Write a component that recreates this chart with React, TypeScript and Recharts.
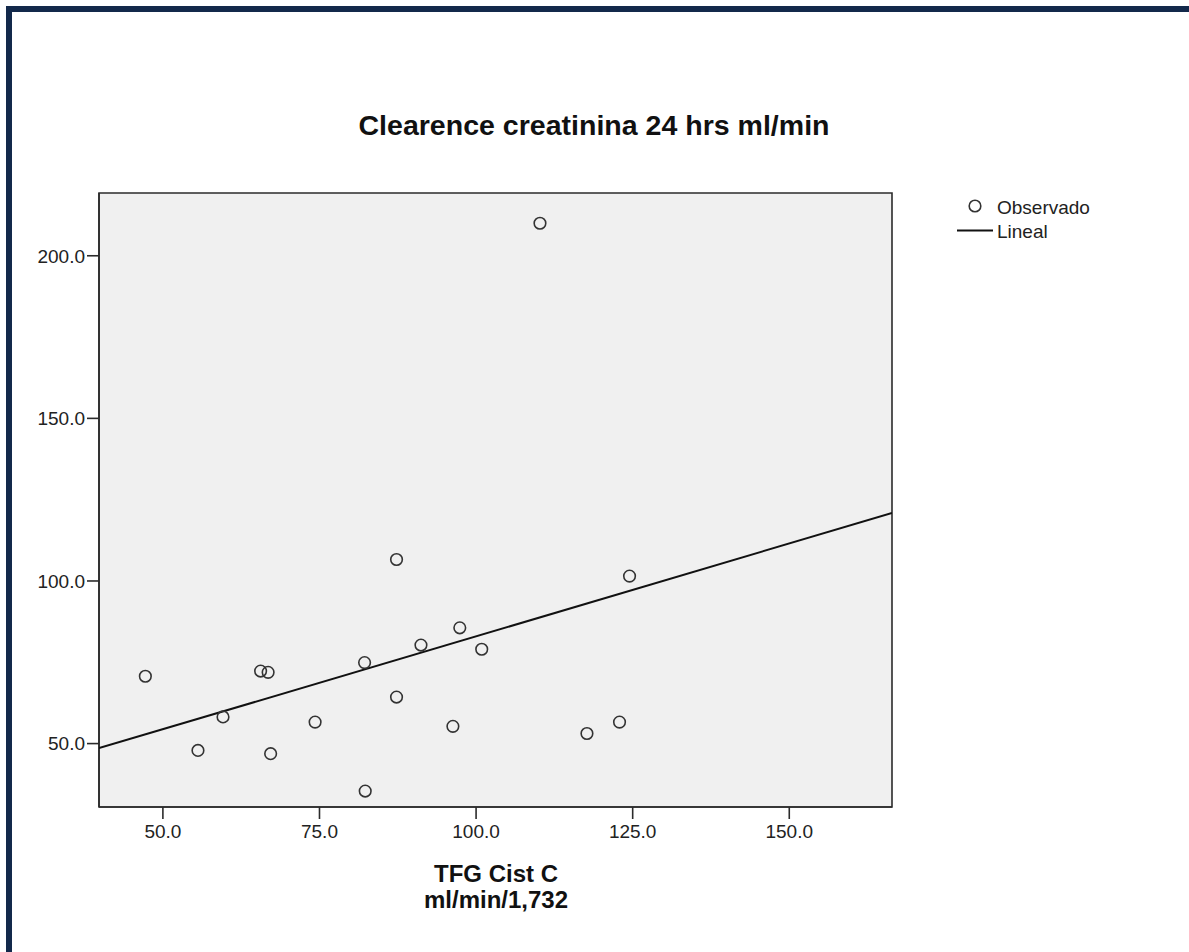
import React from 'react';
import { ScatterChart, Scatter, XAxis, YAxis, CartesianGrid, ReferenceArea } from 'recharts';

// Observed points: TFG Cist C (x) vs Clearence creatinina 24 hrs (y)
const obsX = [47.2, 55.6, 59.6, 65.6, 66.8, 67.2, 74.3, 82.2, 82.3, 87.3, 87.3, 91.2, 96.3, 97.4, 100.9, 110.2, 117.7, 122.9, 124.5];
const obsY = [70.7, 47.9, 58.2, 72.3, 71.9, 46.9, 56.6, 74.9, 35.4, 106.6, 64.3, 80.3, 55.3, 85.6, 79.0, 210.0, 53.1, 56.6, 101.5];

// Linear fit, read at the plot edges
const fitX = [39.8, 166.4];
const fitY = [48.6, 120.9];

const xDomain = [39.8, 166.4];
const yDomain = [30.5, 219.3];
const xTicks = [50, 75, 100, 125, 150];
const yTicks = [50, 100, 150, 200];

const observed = obsX.map((x, i) => ({ x, y: obsY[i] }));
const fitted = fitX.map((x, i) => ({ x, y: fitY[i] }));

const FONT = '"Liberation Sans", Arial, sans-serif';
const AXIS = '#2b2b2b';

const Ring = (props: any) => {
  const { cx, cy } = props;
  if (cx == null || cy == null) return <g />;
  return <circle cx={cx} cy={cy} r={5.8} fill="none" stroke="#333" strokeWidth={1.6} />;
};

const NoDot = () => <g />;

export default function App() {
  const tickStyle = { fontSize: 19, fill: '#222', fontFamily: FONT };
  return (
    <div style={{ position: 'fixed', left: 0, top: 0, width: 1189, height: 952, background: '#fff', overflow: 'hidden' }}>
      {/* frame */}
      <div style={{ position: 'absolute', left: 6, top: 6, right: 0, bottom: 0, borderTop: '6px solid #13294b', borderLeft: '6px solid #13294b' }} />

      <ScatterChart
        width={1189}
        height={952}
        margin={{ top: 193, right: 297, bottom: 105, left: 39 }}
        style={{ position: 'absolute', left: 0, top: 0 }}
      >
        <CartesianGrid horizontal={false} vertical={false} fill="#f0f0f0" />
        <XAxis
          type="number"
          dataKey="x"
          domain={xDomain}
          ticks={xTicks}
          allowDataOverflow
          height={40}
          tickSize={12}
          tickMargin={6}
          tick={tickStyle}
          tickFormatter={(v: number) => v.toFixed(1)}
          axisLine={{ stroke: AXIS, strokeWidth: 1.6 }}
          tickLine={{ stroke: AXIS, strokeWidth: 1.6 }}
        />
        <YAxis
          type="number"
          dataKey="y"
          domain={yDomain}
          ticks={yTicks}
          allowDataOverflow
          width={60}
          tickSize={12}
          tickMargin={2}
          tick={tickStyle}
          tickFormatter={(v: number) => v.toFixed(1)}
          axisLine={{ stroke: AXIS, strokeWidth: 1.6 }}
          tickLine={{ stroke: AXIS, strokeWidth: 1.6 }}
        />
        <ReferenceArea
          x1={xDomain[0]}
          x2={xDomain[1]}
          y1={yDomain[0]}
          y2={yDomain[1]}
          fill="none"
          fillOpacity={0}
          stroke={AXIS}
          strokeWidth={1.6}
          ifOverflow="visible"
        />
        <Scatter
          name="Lineal"
          data={fitted}
          line={{ stroke: '#111', strokeWidth: 2 }}
          shape={NoDot}
          isAnimationActive={false}
        />
        <Scatter name="Observado" data={observed} shape={Ring} isAnimationActive={false} />
      </ScatterChart>

      <svg width={1189} height={952} style={{ position: 'absolute', left: 0, top: 0, pointerEvents: 'none' }}>
        <text x={594} y={135} textAnchor="middle" fontFamily={FONT} fontSize={28} fontWeight="bold" fill="#111" textLength={471} lengthAdjust="spacingAndGlyphs">
          Clearence  creatinina 24 hrs ml/min
        </text>

        {/* legend */}
        <circle cx={975} cy={206} r={5.8} fill="none" stroke="#333" strokeWidth={1.6} />
        <text x={997} y={214} fontFamily={FONT} fontSize={19} fill="#222">Observado</text>
        <line x1={957} x2={993} y1={230.5} y2={230.5} stroke="#111" strokeWidth={2} />
        <text x={997} y={238} fontFamily={FONT} fontSize={19} fill="#222">Lineal</text>

        {/* x axis title */}
        <text x={496} y={882} textAnchor="middle" fontFamily={FONT} fontSize={24} fontWeight="bold" fill="#111">TFG Cist C</text>
        <text x={496} y={908} textAnchor="middle" fontFamily={FONT} fontSize={24} fontWeight="bold" fill="#111">ml/min/1,732</text>
      </svg>
    </div>
  );
}
